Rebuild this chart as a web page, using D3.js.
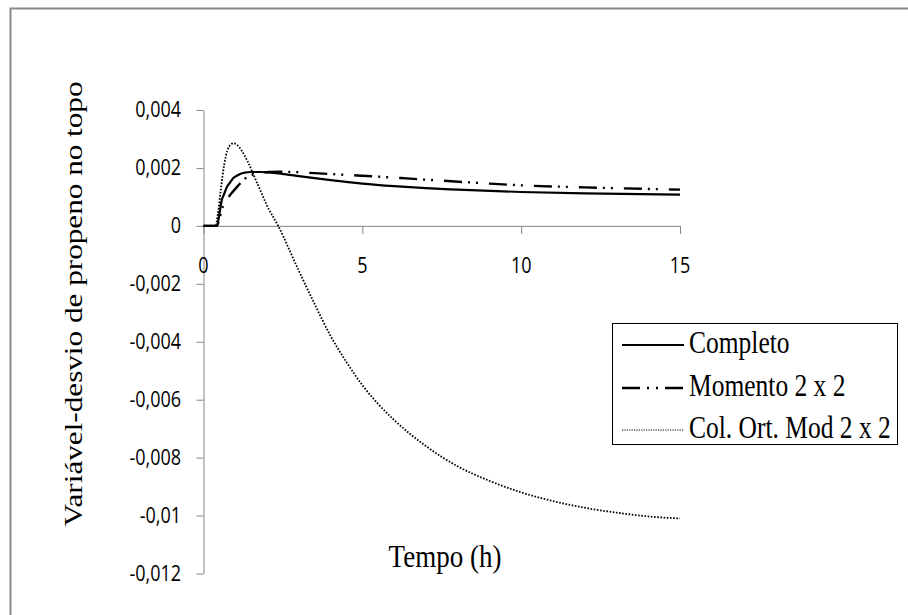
<!DOCTYPE html>
<html>
<head>
<meta charset="utf-8">
<script src="https://cdn.jsdelivr.net/npm/d3@7"></script>
<style>
  html, body { margin: 0; padding: 0; background: #fff; }
  svg { display: block; }
</style>
</head>
<body>
<svg id="chart" width="908" height="615"></svg>
<script>
// Time (h) and deviation variable of propene at the top, for three models
const tCompleto = [0, 0.42, 0.5, 0.57, 0.65, 0.73, 0.84, 0.94, 1.05, 1.15, 1.3, 1.5, 1.8, 2.2, 2.6, 3.0, 4.0, 5.0, 6.0, 7.0, 8.0, 10.0, 12.0, 15.0];
const yCompleto = [0, 0, 0.0004, 0.00087, 0.0011, 0.00133, 0.0015, 0.00165, 0.00173, 0.00179, 0.00184, 0.00186, 0.00186, 0.00183, 0.00178, 0.00172, 0.00158, 0.00146, 0.00137, 0.0013, 0.00125, 0.00117, 0.00112, 0.00108];

const tMomento = [0, 0.42, 0.5, 0.62, 0.78, 0.94, 1.1, 1.25, 1.4, 1.57, 1.8, 2.1, 2.4, 2.8, 3.5, 4.5, 5.5, 6.5, 7.8, 9.0, 10.0, 12.0, 15.0];
const yMomento = [0, 0, 0.00025, 0.0007, 0.00098, 0.0012, 0.0014, 0.00158, 0.00169, 0.00177, 0.00183, 0.00186, 0.00187, 0.00186, 0.00182, 0.00176, 0.0017, 0.00163, 0.00154, 0.00146, 0.0014, 0.00133, 0.00125];

const tColOrt = [0, 0.38, 0.45, 0.55, 0.65, 0.75, 0.85, 0.95, 1.05, 1.2, 1.4, 1.6, 1.8, 2.0, 2.35, 3.0, 3.5, 4.0, 4.5, 5.0, 5.5, 6.0, 7.0, 8.0, 9.0, 10.0, 11.0, 12.0, 13.0, 14.0, 15.0];
const yColOrt = [0, 0, 0.0004, 0.0013, 0.0021, 0.0026, 0.0028, 0.00285, 0.0028, 0.0026, 0.0022, 0.0017, 0.0012, 0.0007, 0, -0.00155, -0.0027, -0.0038, -0.0047, -0.0055, -0.00615, -0.0067, -0.0076, -0.0083, -0.0088, -0.0092, -0.0095, -0.00973, -0.0099, -0.01003, -0.0101];

const xTicks = [0, 5, 10, 15];
const yTicks = [0.004, 0.002, 0, -0.002, -0.004, -0.006, -0.008, -0.01, -0.012];
const yTickLabels = ["0,004", "0,002", "0", "-0,002", "-0,004", "-0,006", "-0,008", "-0,01", "-0,012"];

const seriesNames = ["Completo", "Momento 2 x 2", "Col. Ort. Mod 2 x 2"];

const serifFont = '"Liberation Serif"';
const sansFont = '"Open Sans"';

const svg = d3.select("#chart");

// outer chart frame (right and bottom edges fall outside the view)
svg.append("rect")
  .attr("x", 10.5).attr("y", 8.5)
  .attr("width", 1000).attr("height", 1000)
  .attr("fill", "none").attr("stroke", "#8a8a8a").attr("stroke-width", 2);

const x = d3.scaleLinear().domain([0, 15]).range([203.5, 680]);
const y = d3.scaleLinear().domain([-0.012, 0.004]).range([573.5, 110]);

const axisColor = "#868686";

// y axis
const yAxis = svg.append("g")
  .attr("transform", `translate(${x(0)},0)`)
  .call(d3.axisLeft(y).tickValues(yTicks).tickSize(7).tickSizeOuter(0).tickFormat((d, i) => yTickLabels[i]));
yAxis.select(".domain").attr("stroke", axisColor);
yAxis.selectAll(".tick line").attr("stroke", axisColor);
yAxis.selectAll(".tick text").remove();

// y tick labels (slightly tall glyphs)
yTicks.forEach((v, i) => {
  svg.append("text")
    .style("font-family", sansFont)
    .style("font-size", "18px")
    .attr("transform", `translate(181,${y(v) + 7}) scale(1,1.2)`)
    .attr("text-anchor", "end")
    .attr("fill", "#000")
    .text(yTickLabels[i]);
});

// x axis at y = 0
const xAxis = svg.append("g")
  .attr("transform", `translate(0,${y(0)})`)
  .call(d3.axisBottom(x).tickValues(xTicks).tickSize(8).tickSizeOuter(0).tickFormat(d3.format("d")));
xAxis.select(".domain").attr("stroke", axisColor);
xAxis.selectAll(".tick line").attr("stroke", axisColor);
xAxis.selectAll(".tick text").remove();

xTicks.forEach(v => {
  svg.append("text")
    .style("font-family", sansFont)
    .style("font-size", "18px")
    .attr("transform", `translate(${x(v)},${y(0) + 47}) scale(1,1.2)`)
    .attr("text-anchor", "middle")
    .attr("fill", "#000")
    .text(v);
});

// series lines
const line = d3.line().x(d => x(d[0])).y(d => y(d[1])).curve(d3.curveMonotoneX);
const zip = (a, b) => a.map((v, i) => [v, b[i]]);

const styles = [
  { dash: null, width: 2.2, legendDash: null, legendWidth: 2.2 },
  { dash: "18,6,2,6,2,11", width: 2.4, legendDash: "18,7,2,7,2,7,18", legendWidth: 2.4 },
  { dash: "1.6,1.6", width: 1.8, legendDash: "1.2,1.2", legendWidth: 1.2 }
];
const data = [zip(tCompleto, yCompleto), zip(tMomento, yMomento), zip(tColOrt, yColOrt)];

data.forEach((d, i) => {
  svg.append("path")
    .datum(d)
    .attr("d", line)
    .attr("fill", "none")
    .attr("stroke", "#000")
    .attr("stroke-width", styles[i].width)
    .attr("stroke-dasharray", styles[i].dash);
});

// axis titles
svg.append("text")
  .style("font-family", serifFont)
  .style("font-size", "27px")
  .attr("transform", `translate(445,567) scale(1,1.2)`)
  .attr("text-anchor", "middle")
  .attr("fill", "#000")
  .text("Tempo (h)");

svg.append("g")
  .attr("transform", `translate(82,304) scale(1,1.2) rotate(-90)`)
  .append("text")
  .style("font-family", serifFont)
  .style("font-size", "26px")
  .attr("text-anchor", "middle")
  .attr("fill", "#000")
  .text("Variável-desvio de propeno no topo");

// legend
const legend = svg.append("g");
legend.append("rect")
  .attr("x", 612.5).attr("y", 323.5)
  .attr("width", 285).attr("height", 121)
  .attr("fill", "#fff").attr("stroke", "#000").attr("stroke-width", 1);

const rowY = [345, 388, 430];
seriesNames.forEach((name, i) => {
  legend.append("line")
    .attr("x1", 622).attr("x2", 684)
    .attr("y1", rowY[i]).attr("y2", rowY[i])
    .attr("stroke", "#000")
    .attr("stroke-width", styles[i].legendWidth)
    .attr("stroke-dasharray", styles[i].legendDash);
  legend.append("text")
    .style("font-family", serifFont)
    .style("font-size", "25.5px")
    .attr("transform", `translate(689,${rowY[i] + 8}) scale(1,1.2)`)
    .attr("fill", "#000")
    .text(name);
});
</script>
</body>
</html>
